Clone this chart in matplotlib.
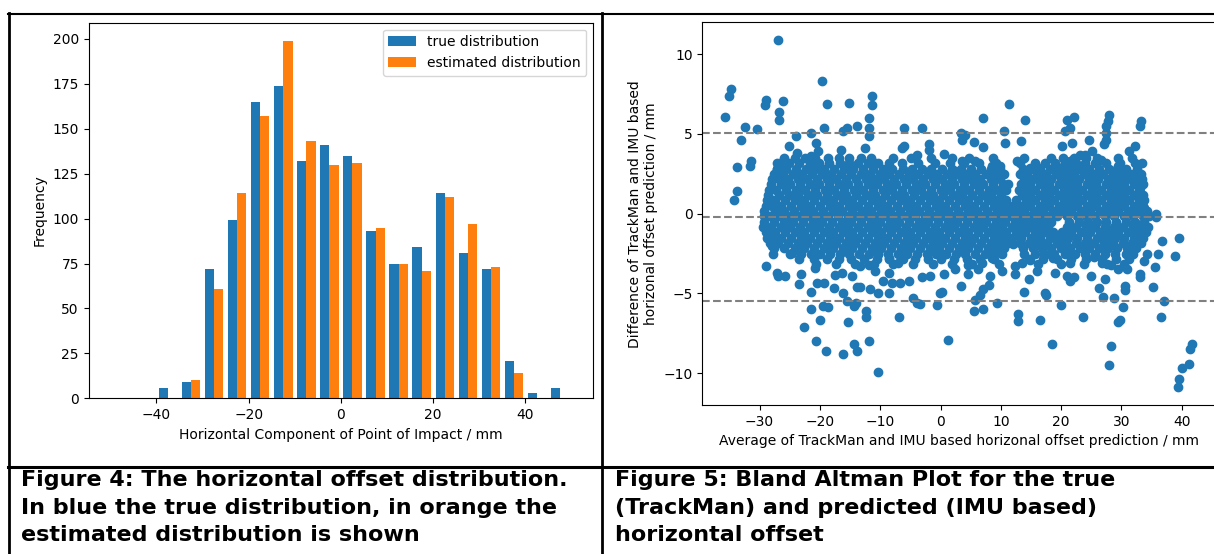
import matplotlib
matplotlib.use("Agg")
import matplotlib.pyplot as plt
from matplotlib.lines import Line2D
import numpy as np

# --- histogram data (counts per 5 mm bin, edges -50 .. 50) ---
bin_edges = np.arange(-50, 55, 5)
true_counts = [0, 0, 6, 9, 72, 99, 165, 174, 132, 141, 135, 93, 75, 84, 114, 81, 72, 21, 3, 6]
est_counts = [0, 0, 0, 10, 61, 114, 157, 199, 143, 130, 131, 95, 75, 71, 112, 97, 73, 14, 0, 0]

# --- Bland Altman data ---
mean_diff = -0.22
upper_loa = 5.05
lower_loa = -5.49

outlier_x = [
    -27.0, -35.7, -35.0, -34.8, -32.4, -33.0, -30.4, -33.8, -31.4, -31.6, -33.8, -34.2, -28.9, -29.1,
    -26.1, -26.7, -26.8, -19.7, -18.8, -15.1, -19.4, -23.9, -21.4, -20.6, -20.3, -21.4, -25.2, -23.8,
    -27.1, -27.1, -16.5, -16.1, -15.5, -13.9, -28.2,
    -11.4, -11.3, -11.8, -11.8, -11.9, -6.0, -3.0, -6.4, -6.0, -1.9, -1.9, -3.9, 0.5, 3.4, 3.5, 4.0,
    5.5, 7.0, 7.0, 11.4, 14.0, 10.6, 10.7, 13.3, 12.7, 3.5, 5.75, 2.4, 8.5, 9.9, 14.9, -12.5, -10.8,
    22.1, 21.0, 21.5, 20.7, 27.9, 27.7, 27.5, 27.5, 27.4, 27.1, 33.2, 33.0, 20.2, 21.8, 24.7, 25.1,
    24.0, 23.1, 26.6, 31.2, 32.3, 29.5, 33.4, 32.6, 33.1, 29.0, 30.3, 20.3, 21.4, 19.3, 20.4, 16.0,
    24.3, 25.9, 35.8, 33.7, 33.1, 28.7,
    -28.9, -27.1, -26.9, -25.8, -23.5, -23.1, -24.6, -27.7, -28.0, -22.7, -21.4, -21.4, -20.0, -20.6,
    -19.0, -16.1, -14.4, -13.9, -15.4, -19.5, -18.6, -20.5, -19.4, -20.8, -17.7, -16.1, -15.5, -14.4,
    -17.5, -16.4, -14.7, -13.9, -29.4,
    -10.4, -11.9, 1.2, -6.8, -12.4, -12.3, -14.0, -3.9, -3.4, -0.6, -0.05, 5.6, 7.1, 9.35, 12.8, 12.8,
    13.8, 5.75, 6.6, 7.1, 8.0, 8.2, 6.3, 3.4, 0.3, -4.5, -8.6, -10.3, -11.7, -13.3, -9.5, -8.1, -6.7,
    -5.3, -13.3, -11.9, -10.8, -8.6, -3.1, -1.7, 0.5, 2.4, 4.6, 10.2, 12.4, 14.6, 12.1, 12.4, 13.5,
    -8.6, -7.0, -10.3, -2.0, 0.8, 4.6, 6.9, 8.5,
    39.6, 38.9, 36.7, 36.1, 35.5, 35.2, 37.0, 36.5, 41.7, 41.4, 41.2, 40.1, 39.6, 39.4, 28.3, 27.9,
    18.5, 16.5, 23.6, 29.4, 29.7, 30.2, 19.9, 28.7, 27.0, 27.3, 26.2, 17.4, 17.5, 30.6, 30.6, 24.9,
    21.0, 22.1, 21.5, 19.0, 16.0, 33.1, 33.0, 33.7, 34.3, 35.7, 29.5, 30.9, 25.4, 26.8, 28.2, 21.5,
    21.8, 18.2, 18.7, 14.9,
]
outlier_y = [
    10.9, 6.05, 7.4, 7.8, 5.45, 4.6, 5.3, 2.9, 3.3, 3.0, 1.4, 0.83, 7.15, 6.8,
    7.05, 6.4, 5.85, 8.3, 6.9, 6.95, 5.4, 4.85, 5.05, 4.45, 3.9, 3.6, 4.25, 3.8,
    3.2, 2.8, 4.0, 5.2, 5.35, 5.5, 0.9,
    7.37, 6.8, 6.0, 5.4, 4.85, 5.4, 5.35, 4.1, 4.25, 4.35, 4.0, 3.65, 3.75, 5.05, 4.65, 4.95,
    4.5, 6.0, 4.15, 6.85, 5.85, 5.2, 4.45, 4.55, 3.3, 3.3, 3.3, 2.65, 3.0, 3.0, 2.85, 4.1, 3.2,
    6.05, 5.85, 5.4, 5.2, 6.2, 5.8, 5.5, 5.05, 4.65, 4.35, 5.8, 5.5, 4.25, 4.45, 4.65, 3.9,
    3.7, 3.7, 3.35, 3.95, 4.25, 3.0, 3.2, 2.65, 2.25, 2.15, 2.35, 3.5, 3.3, 2.9, 3.0, 2.9,
    2.75, 2.45, 0.0, 0.35, 1.6, 1.5,
    -3.3, -3.7, -3.9, -3.9, -4.4, -3.8, -2.45, -2.55, -2.0, -7.1, -4.9, -6.0, -6.7, -8.0,
    -8.6, -8.8, -8.2, -8.6, -6.8, -5.8, -5.85, -4.35, -4.35, -3.4, -4.65, -5.0, -5.5, -5.8,
    -3.85, -3.7, -3.9, -4.6, -0.85,
    -9.9, -8.0, -7.95, -6.5, -6.1, -6.5, -5.6, -5.6, -5.65, -5.7, -4.95, -6.1, -6.0, -5.6, -6.3, -6.75,
    -4.9, -5.4, -5.1, -4.75, -4.45, -3.9, -3.5, -4.55, -4.9, -5.3, -4.95, -4.95, -4.75, -4.6, -4.2, -4.35, -4.35,
    -4.2, -3.3, -3.2, -3.6, -3.7, -4.0, -3.9, -3.8, -3.5, -3.8, -3.6, -3.8, -4.1, -1.9, -3.3, -3.1,
    -2.75, -3.1, -2.55, -1.5, -2.55, -3.2, -3.1, -2.75,
    -1.5, -2.65, -1.7, -2.5, -3.35, -4.6, -5.45, -6.5, -8.2, -8.5, -9.4, -9.7, -10.35, -10.9, -8.3, -9.5,
    -8.2, -6.7, -6.5, -6.8, -6.7, -5.85, -5.7, -5.3, -5.2, -4.1, -4.65, -4.95, -5.1, -4.55, -4.8, -3.9,
    -3.9, -3.95, -4.2, -3.7, -3.6, -3.8, -4.0, -3.0, -2.55, -0.2, -3.5, -3.5, -2.7, -3.1, -3.2, -3.1,
    -2.55, -2.55, -2.75, -2.9,
]

# dense core of the cloud, read row by row (difference value: averages)
core_rows = {
    3.5: [-25.9, -24.2, -22.5, -20.8, -18.6, -16.9, -15.1, -13.2, -11.6, -7.8, -4.9, -1.6, 1.9, 4.8,
          8.7, 13.9, 18.4, 22.2, 24.1, 26.0, 29.4, 31.7],
    3.17: [-26.6, -25.1, -23.4, -21.7, -20.1, -18.5, -16.7, -15.2, -13.6, -12.1, -10.3, -8.6, -6.4, -3.8,
           -0.9, 1.6, 3.9, 6.4, 9.2, 13.1, 15.6, 17.3, 19.0, 20.7, 22.5, 24.0, 25.7, 27.4, 29.8, 32.2],
    2.83: [-27.1, -25.6, -24.0, -22.3, -20.8, -19.3, -17.6, -16.0, -14.5, -12.8, -11.2, -9.6, -8.0, -6.3,
           -4.7, -3.0, -1.5, 0.2, 1.9, 3.4, 5.0, 6.7, 8.3, 9.9, 13.6, 15.0, 16.5, 18.1, 19.8, 21.4, 22.9,
           24.6, 26.2, 27.9, 29.3, 30.8, 32.6],
    2.5: [-27.6, -26.1, -24.5, -22.9, -21.3, -19.7, -18.1, -16.5, -14.8, -13.2, -11.7, -10.1, -8.5, -6.9,
          -5.3, -3.7, -2.1, -0.5, 1.1, 2.7, 4.3, 5.8, 7.5, 9.1, 10.6, 13.2, 14.4, 16.0, 17.5, 19.1, 20.6,
          22.2, 23.8, 25.3, 26.9, 28.6, 30.1, 31.6, 33.2],
    2.17: [-27.9, -26.8, -25.3, -23.7, -22.1, -20.5, -18.9, -17.3, -15.6, -14.0, -12.4, -10.9, -9.3, -7.7,
           -6.1, -4.5, -2.9, -1.3, 0.3, 1.9, 3.5, 5.1, 6.6, 8.3, 9.9, 13.8, 15.3, 16.8, 18.3, 19.9, 21.4,
           23.0, 24.6, 26.1, 27.7, 29.3, 30.9, 32.4, 33.4],
    1.83: [-28.1, -26.4, -24.9, -23.3, -21.7, -20.1, -18.5, -16.9, -15.3, -13.7, -12.1, -10.5, -8.9, -7.3,
           -5.7, -4.1, -2.5, -0.9, 0.7, 2.3, 3.9, 5.5, 7.1, 8.7, 10.3, 11.2, 13.4, 14.9, 16.5, 18.0, 19.6,
           21.1, 22.7, 24.3, 25.8, 27.4, 29.0, 30.5, 32.1, 33.5],
    1.5: [-28.4, -27.2, -25.6, -24.0, -22.4, -20.8, -19.2, -17.6, -16.0, -14.4, -12.8, -11.2, -9.6, -8.0,
          -6.4, -4.8, -3.2, -1.6, 0.0, 1.6, 3.2, 4.8, 6.4, 8.0, 9.6, 10.9, 13.0, 14.2, 15.7, 17.3, 18.8,
          20.4, 21.9, 23.5, 25.1, 26.6, 28.2, 29.7, 31.3, 32.9],
    1.17: [-28.6, -26.8, -25.2, -23.6, -22.0, -20.4, -18.8, -17.2, -15.6, -14.0, -12.4, -10.8, -9.2, -7.6,
           -6.0, -4.4, -2.8, -1.2, 0.4, 2.0, 3.6, 5.2, 6.8, 8.4, 10.0, 13.5, 14.9, 16.5, 18.0, 19.6, 21.1,
           22.7, 24.3, 25.8, 27.4, 28.9, 30.5, 32.1, 33.6],
    0.83: [-28.8, -27.4, -25.8, -24.2, -22.6, -21.0, -19.4, -17.8, -16.2, -14.6, -13.0, -11.4, -9.8, -8.2,
           -6.6, -5.0, -3.4, -1.8, -0.2, 1.4, 3.0, 4.6, 6.2, 7.8, 9.4, 10.9, 12.6, 14.1, 15.7, 17.3, 18.8,
           20.4, 21.9, 23.5, 25.1, 26.6, 28.2, 29.7, 31.3, 32.9, 33.8],
    0.5: [-29.0, -28.0, -26.4, -24.8, -23.2, -21.6, -20.0, -18.4, -16.8, -15.2, -13.6, -12.0, -10.4, -8.8,
          -7.2, -5.6, -4.0, -2.4, -0.8, 0.8, 2.4, 4.0, 5.6, 7.2, 8.8, 10.3, 11.9, 13.4, 14.9, 16.5, 18.0,
          19.6, 21.1, 22.7, 24.3, 25.8, 27.4, 28.9, 30.5, 32.1, 33.6],
    0.17: [-29.2, -27.5, -25.9, -24.3, -22.7, -21.1, -19.5, -17.9, -16.3, -14.7, -13.1, -11.5, -9.9, -8.3,
           -6.7, -5.1, -3.5, -1.9, -0.3, 1.3, 2.9, 4.5, 6.1, 7.7, 9.3, 10.8, 12.4, 13.9, 15.5, 17.0, 18.6,
           20.2, 21.7, 23.3, 24.8, 26.4, 28.0, 29.5, 31.1, 32.6, 34.2],
    -0.17: [-29.3, -28.2, -26.6, -25.0, -23.4, -21.8, -20.2, -18.6, -17.0, -15.4, -13.8, -12.2, -10.6, -9.0,
            -7.4, -5.8, -4.2, -2.6, -1.0, 0.6, 2.2, 3.8, 5.4, 7.0, 8.6, 10.1, 11.7, 13.2, 14.8, 16.3, 17.9,
            19.4, 21.0, 22.6, 24.1, 25.7, 27.2, 28.8, 30.4, 31.9, 33.5, 34.6],
    -0.5: [-29.2, -27.6, -26.0, -24.4, -22.8, -21.2, -19.6, -18.0, -16.4, -14.8, -13.2, -11.6, -10.0, -8.4,
           -6.8, -5.2, -3.6, -2.0, -0.4, 1.2, 2.8, 4.4, 6.0, 7.6, 9.2, 10.7, 12.3, 13.8, 15.4, 16.9, 18.3,
           21.3, 22.9, 24.4, 26.0, 27.5, 29.1, 30.7, 32.2, 33.8],
    -0.83: [-29.0, -28.1, -26.5, -24.9, -23.3, -21.7, -20.1, -18.5, -16.9, -15.3, -13.7, -12.1, -10.5, -8.9,
            -7.3, -5.7, -4.1, -2.5, -0.9, 0.7, 2.3, 3.9, 5.5, 7.1, 8.7, 10.2, 11.8, 13.3, 14.9, 16.4, 17.8,
            21.0, 22.5, 24.1, 25.6, 27.2, 28.7, 30.3, 31.9, 33.4, 34.4],
    -1.17: [-28.9, -27.4, -25.8, -24.2, -22.6, -21.0, -19.4, -17.8, -16.2, -14.6, -13.0, -11.4, -9.8, -8.2,
            -6.6, -5.0, -3.4, -1.8, -0.2, 1.4, 3.0, 4.6, 6.2, 7.8, 9.4, 10.9, 12.5, 14.0, 15.6, 17.1, 18.6,
            20.2, 21.7, 23.3, 24.8, 26.4, 28.0, 29.5, 31.1, 32.6, 34.1],
    -1.5: [-28.7, -28.0, -26.4, -24.8, -23.2, -21.6, -20.0, -18.4, -16.8, -15.2, -13.6, -12.0, -10.4, -8.8,
           -7.2, -5.6, -4.0, -2.4, -0.8, 0.8, 2.4, 4.0, 5.6, 7.2, 8.8, 10.3, 11.9, 13.4, 15.0, 16.5, 18.1,
           19.6, 21.2, 22.7, 24.3, 25.9, 27.4, 29.0, 30.5, 32.1, 33.6],
    -1.83: [-28.3, -26.9, -25.3, -23.7, -22.1, -20.5, -18.9, -17.3, -15.7, -14.1, -12.5, -10.9, -9.3, -7.7,
            -6.1, -4.5, -2.9, -1.3, 0.3, 1.9, 3.5, 5.1, 6.7, 8.3, 9.8, 11.2, 13.1, 14.6, 16.2, 17.7, 19.3,
            20.8, 22.4, 23.9, 25.5, 27.1, 28.6, 30.2, 31.7, 33.3],
    -2.17: [-27.6, -25.9, -24.1, -22.6, -21.0, -19.4, -17.8, -16.2, -14.6, -13.0, -11.4, -9.8, -8.2, -6.6,
            -5.0, -3.4, -1.8, -0.2, 1.4, 3.0, 4.6, 6.2, 7.8, 9.4, 10.6, 13.7, 15.3, 16.8, 18.4, 19.9, 21.5,
            23.1, 24.6, 26.2, 27.7, 29.3, 30.9, 32.5],
    -2.5: [-25.0, -23.1, -21.5, -19.9, -18.3, -16.7, -15.1, -13.5, -11.9, -10.3, -8.7, -7.1, -5.5, -3.9,
           -2.3, -0.7, 0.9, 2.5, 4.1, 5.7, 7.3, 8.9, 10.2, 13.9, 15.6, 17.2, 18.8, 20.6, 22.3, 24.0, 25.7,
           27.3, 29.0, 30.7, 32.0],
    -2.83: [-23.4, -21.0, -18.9, -16.9, -14.8, -12.7, -10.6, -8.5, -6.3, -4.2, -2.0, 0.1, 2.3, 4.4, 6.6,
            8.9, 14.7, 17.0, 19.3, 21.7, 24.2, 26.7, 29.1, 31.2],
    -3.17: [-20.6, -17.4, -14.1, -11.0, -7.9, -4.6, -1.3, 1.9, 5.2, 9.7, 16.2, 20.0, 23.8, 27.6, 30.5],
}

avg_vals = list(outlier_x)
diff_vals = list(outlier_y)
for d, xs in core_rows.items():
    avg_vals += xs
    diff_vals += [d] * len(xs)

W, H = 1214, 554
fig = plt.figure(figsize=(W / 100, H / 100), dpi=100)


def px_axes(left, top, right, bottom):
    return fig.add_axes([left / W, 1 - bottom / H, (right - left) / W, (bottom - top) / H])


# left: histogram
ax1 = px_axes(88.6, 22.7, 593.3, 398.3)
centers = (bin_edges[:-1] + bin_edges[1:]) / 2
bw = 5 * 0.4
ax1.bar(centers - bw / 2, true_counts, width=bw, color="#1f77b4", label="true distribution")
ax1.bar(centers + bw / 2, est_counts, width=bw, color="#ff7f0e", label="estimated distribution")
ax1.set_xlim(-54.7, 54.7)
ax1.set_ylim(0, 209)
ax1.set_xlabel("Horizontal Component of Point of Impact / mm")
ax1.set_ylabel("Frequency")
ax1.legend(loc="upper right")

# right: Bland Altman
ax2 = px_axes(702.3, 22.3, 1215.5, 405)
ax2.scatter(avg_vals, diff_vals, s=36, color="#1f77b4")
for yv in (mean_diff, upper_loa, lower_loa):
    ax2.axhline(yv, color="gray", linestyle="--", linewidth=1.5)
ax2.set_xlim(-39.5, 45.6)
ax2.set_ylim(-12.0, 12.0)
ax2.set_xlabel("Average of TrackMan and IMU based horizonal offset prediction / mm")
ax2.set_ylabel("Difference of TrackMan and IMU based\nhorizonal offset prediction / mm")


# table borders around the two figures
def hline(y, x0, x1, lw):
    fig.add_artist(Line2D([x0 / W, x1 / W], [1 - y / H, 1 - y / H], color="black", lw=lw))


def vline(x, y0, y1, lw):
    fig.add_artist(Line2D([x / W, x / W], [1 - y0 / H, 1 - y1 / H], color="black", lw=lw))


hline(13.7, 7.5, W, 1.5)
hline(466.7, 7.5, W, 2.2)
vline(8.7, 13.0, H, 2.0)
vline(602.0, 13.0, H, 2.0)

# captions
cap_font = dict(family="DejaVu Sans", weight="bold", fontsize=16, va="baseline", ha="left")
left_caption = ["Figure 4: The horizontal offset distribution.",
                "In blue the true distribution, in orange the",
                "estimated distribution is shown"]
right_caption = ["Figure 5: Bland Altman Plot for the true",
                 "(TrackMan) and predicted (IMU based)",
                 "horizontal offset"]
baselines = [486.0, 513.5, 541.0]
for line, b in zip(left_caption, baselines):
    fig.text(21 / W, 1 - b / H, line, **cap_font)
for line, b in zip(right_caption, baselines):
    fig.text(615 / W, 1 - b / H, line, **cap_font)

fig.savefig("out.png", dpi=100)
